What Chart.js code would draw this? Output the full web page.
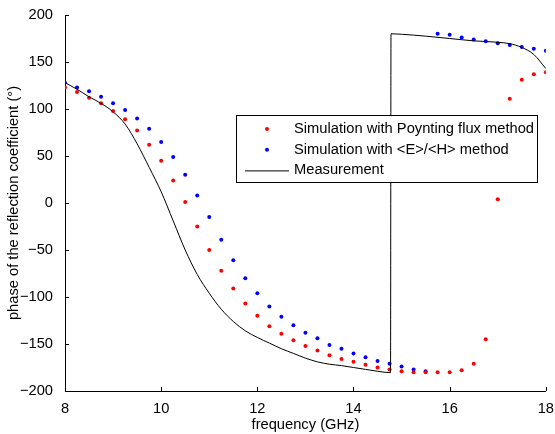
<!DOCTYPE html>
<html>
<head>
<meta charset="utf-8">
<script src="https://cdn.jsdelivr.net/npm/chart.js@4.4.1/dist/chart.umd.min.js"></script>
<style>
  html, body { margin: 0; padding: 0; background: #fff; }
  #wrap { width: 555px; height: 434px; position: relative; }
</style>
</head>
<body>
<div id="wrap"><canvas id="chart-phase"></canvas></div>
<script>
// frequency grid of the two simulations (GHz)
const simFreq = [8, 8.25, 8.5, 8.75, 9, 9.25, 9.5, 9.75, 10, 10.25, 10.5, 10.75, 11, 11.25, 11.5, 11.75,
  12, 12.25, 12.5, 12.75, 13, 13.25, 13.5, 13.75, 14, 14.25, 14.5, 14.75, 15, 15.25, 15.5, 15.75,
  16, 16.25, 16.5, 16.75, 17, 17.25, 17.5, 17.75, 18];

// Poynting flux method (red)
const poyntingPhase = [123, 118, 112, 106, 98, 89, 77, 62, 45, 24, 1, -25, -50, -72, -91, -107,
  -120, -131, -139, -146, -152, -157, -162, -166, -169, -172, -175, -177, -179, -180, -180, -180,
  -180, -178, -171, -145, 4, 111, 131, 137, 139];

// <E>/<H> method (blue)
const ehPhase = [128, 123, 119, 113, 106, 99, 90, 79, 65, 49, 30, 8, -15, -39, -61, -80,
  -96, -110, -121, -130, -138, -144, -151, -155, -160, -164, -168, -171, -174, -177, -179, 180,
  179, 176, 174, 172, 170, 168, 166, 164, 162];

// measurement (black line), wraps from -180 to +180 near 14.77 GHz
const measFreq = [8, 8.25, 8.5, 8.75, 9, 9.25, 9.5, 9.75, 10, 10.25, 10.5, 10.75, 11, 11.25, 11.5, 11.75,
  12, 12.25, 12.5, 12.75, 13, 13.25, 13.5, 13.75, 14, 14.25, 14.5, 14.77, 14.78, 15, 15.5, 16, 16.5,
  17, 17.25, 17.5, 17.75, 18];
const measPhase = [128, 121, 113, 106, 97, 84, 63, 38, 12, -19, -50, -76, -96, -113, -126, -136,
  -143, -149, -155, -160, -165, -169, -171.5, -173, -175, -177, -179, -180.5, 180, 179.5, 177.5, 175, 172.5,
  171, 169.5, 165.5, 158, 143];

const xTicks = [8, 10, 12, 14, 16, 18];
const yTicks = [-200, -150, -100, -50, 0, 50, 100, 150, 200];

const legendItems = [
  { label: "Simulation with Poynting flux method", kind: "dot", color: "#ff0000" },
  { label: "Simulation with <E>/<H> method", kind: "dot", color: "#0000ff" },
  { label: "Measurement", kind: "line", color: "#000000" },
];

const FONT = "Liberation Sans, Arial, Helvetica, sans-serif";

function pairs(xs, ys) { return xs.map((x, i) => ({ x, y: ys[i] })); }

// MATLAB-style inward tick marks
const innerTicks = {
  id: "innerTicks",
  afterDatasetsDraw(chart) {
    const { ctx, chartArea: a, scales: { x, y } } = chart;
    ctx.save();
    ctx.strokeStyle = "#000";
    ctx.lineWidth = 1;
    ctx.beginPath();
    xTicks.forEach((v) => {
      const px = Math.round(x.getPixelForValue(v)) + 0.5;
      ctx.moveTo(px, a.bottom); ctx.lineTo(px, a.bottom - 4);
    });
    yTicks.forEach((v) => {
      const py = Math.round(y.getPixelForValue(v)) + 0.5;
      ctx.moveTo(a.left, py); ctx.lineTo(a.left + 4, py);
    });
    ctx.stroke();
    ctx.restore();
  }
};

// legend box inside the plot
const boxLegend = {
  id: "boxLegend",
  afterDraw(chart) {
    const ctx = chart.ctx;
    const left = 236.5, top = 115.5, w = 301, h = 67;
    ctx.save();
    ctx.fillStyle = "#fff";
    ctx.fillRect(left, top, w, h);
    ctx.strokeStyle = "#000";
    ctx.lineWidth = 1;
    ctx.strokeRect(left, top, w, h);
    ctx.font = "14.7px " + FONT;
    ctx.textBaseline = "middle";
    legendItems.forEach((it, i) => {
      const cy = 129 + i * 20.7;
      if (it.kind === "dot") {
        ctx.fillStyle = it.color;
        ctx.beginPath(); ctx.arc(267, cy, 2, 0, Math.PI * 2); ctx.fill();
      } else {
        ctx.strokeStyle = it.color;
        ctx.beginPath(); ctx.moveTo(245, cy + 0.5); ctx.lineTo(289, cy + 0.5); ctx.stroke();
      }
      ctx.fillStyle = "#000";
      ctx.fillText(it.label, 294, cy);
    });
    ctx.restore();
  }
};

function minusFmt(v) { return String(v).replace("-", "\u2212"); }

new Chart(document.getElementById("chart-phase"), {
  type: "scatter",
  data: {
    datasets: [
      { label: "Measurement", data: pairs(measFreq, measPhase), showLine: true, borderColor: "#000",
        borderWidth: 1, pointRadius: 0, cubicInterpolationMode: "monotone" },
      { label: "Simulation with Poynting flux method", data: pairs(simFreq, poyntingPhase),
        backgroundColor: "#ff0000", borderWidth: 0, pointRadius: 2 },
      { label: "Simulation with <E>/<H> method", data: pairs(simFreq, ehPhase),
        backgroundColor: "#0000ff", borderWidth: 0, pointRadius: 2 },
    ]
  },
  options: {
    responsive: true, maintainAspectRatio: false, animation: false,
    layout: { padding: { top: 15, right: 9, left: 0, bottom: 0 } },
    plugins: { legend: { display: false }, tooltip: { enabled: false } },
    scales: {
      x: {
        type: "linear", min: 8, max: 18,
        afterBuildTicks: (s) => { s.ticks = xTicks.map((v) => ({ value: v })); },
        afterFit: (s) => { s.height = 43; },
        grid: { display: false },
        border: { display: true, color: "#000", width: 1 },
        ticks: { color: "#000", font: { family: FONT, size: 14.7 }, padding: 1, maxRotation: 0 },
        title: { display: true, text: "frequency (GHz)", color: "#000",
          font: { family: FONT, size: 14.7 }, padding: { top: 0, bottom: 0 } }
      },
      y: {
        min: -200, max: 200,
        afterBuildTicks: (s) => { s.ticks = yTicks.map((v) => ({ value: v })); },
        afterFit: (s) => { s.width = 65; },
        grid: { display: false },
        border: { display: true, color: "#000", width: 1 },
        ticks: { color: "#000", font: { family: FONT, size: 14.7 }, padding: 4,
          callback: (v) => minusFmt(v) },
        title: { display: true, text: "phase of the reflection coefficient (°)", color: "#000",
          font: { family: FONT, size: 14.7 }, padding: { top: 5, bottom: 0 } }
      }
    }
  },
  plugins: [innerTicks, boxLegend]
});
</script>
</body>
</html>
